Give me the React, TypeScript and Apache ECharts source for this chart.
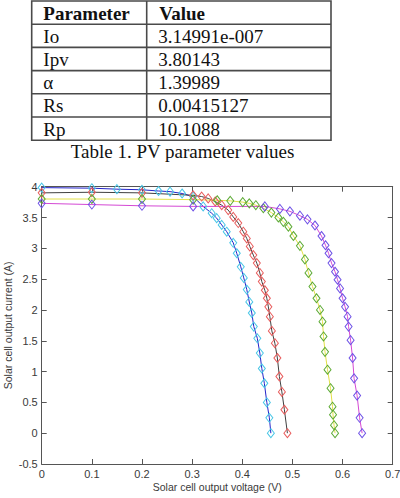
import React, { useEffect, useRef } from "react";
import * as echarts from "echarts";

// Table content
const tableHeader = ["Parameter", "Value"];
const paramNames = ["Io", "Ipv", "α", "Rs", "Rp"];
const paramValues = ["3.14991e-007", "3.80143", "1.39989", "0.00415127", "10.1088"];
const caption = "Table 1. PV parameter values";

// Chart axes
const xTicks = [0, 0.1, 0.2, 0.3, 0.4, 0.5, 0.6, 0.7];
const yTicks = [-0.5, 0, 0.5, 1, 1.5, 2, 2.5, 3, 3.5, 4];
const xName = "Solar cell output voltage (V)";
const yName = "Solar cell output current (A)";

// Curve A (cyan markers, blue line)
const curveAx = [0, 0.1, 0.15, 0.2, 0.233, 0.256, 0.28, 0.302, 0.322, 0.339, 0.349, 0.359, 0.369, 0.382, 0.389, 0.397, 0.403, 0.409, 0.414, 0.419, 0.423, 0.43, 0.435, 0.439, 0.444, 0.449, 0.454, 0.457];
const curveAy = [3.985, 3.976, 3.96, 3.95, 3.93, 3.92, 3.89, 3.84, 3.68, 3.57, 3.49, 3.38, 3.27, 3.09, 2.92, 2.7, 2.52, 2.33, 2.13, 1.95, 1.73, 1.54, 1.3, 1.05, 0.81, 0.5, 0.25, 0];
// Curve B (red markers, dark line)
const curveBx = [0, 0.1, 0.2, 0.302, 0.319, 0.332, 0.346, 0.359, 0.372, 0.382, 0.392, 0.402, 0.409, 0.415, 0.422, 0.429, 0.435, 0.439, 0.445, 0.449, 0.452, 0.455, 0.459, 0.465, 0.47, 0.474, 0.479, 0.484, 0.49];
const curveBy = [3.9, 3.91, 3.9, 3.86, 3.84, 3.81, 3.76, 3.7, 3.62, 3.51, 3.41, 3.27, 3.16, 3.03, 2.89, 2.76, 2.6, 2.46, 2.32, 2.19, 2.05, 1.89, 1.66, 1.46, 1.22, 0.92, 0.67, 0.38, 0];
// Curve C (green markers, yellow line)
const curveCx = [0, 0.1, 0.2, 0.302, 0.35, 0.376, 0.401, 0.414, 0.427, 0.442, 0.458, 0.472, 0.482, 0.492, 0.502, 0.515, 0.525, 0.532, 0.54, 0.548, 0.555, 0.56, 0.562, 0.565, 0.57, 0.576, 0.58, 0.581, 0.583, 0.585];
const curveCy = [3.8, 3.8, 3.8, 3.79, 3.78, 3.77, 3.75, 3.73, 3.7, 3.65, 3.58, 3.5, 3.43, 3.35, 3.2, 3.04, 2.82, 2.6, 2.38, 2.19, 2.0, 1.81, 1.57, 1.32, 1.03, 0.73, 0.43, 0.3, 0.13, 0];
// Curve D (purple markers, magenta line)
const curveDx = [0, 0.1, 0.2, 0.302, 0.445, 0.475, 0.495, 0.515, 0.53, 0.545, 0.558, 0.566, 0.572, 0.578, 0.585, 0.59, 0.595, 0.6, 0.605, 0.61, 0.612, 0.616, 0.62, 0.623, 0.629, 0.634, 0.639];
const curveDy = [3.73, 3.71, 3.69, 3.68, 3.68, 3.64, 3.6, 3.53, 3.47, 3.37, 3.2, 3.05, 2.92, 2.76, 2.62, 2.49, 2.35, 2.19, 2.05, 1.89, 1.73, 1.51, 1.22, 0.89, 0.61, 0.25, 0];

const zip = (xs: number[], ys: number[]) => xs.map((x, i) => [x, ys[i]]);

const curves = [
  { name: "A", data: zip(curveAx, curveAy), line: "#2323c8", marker: "#48c6e6" },
  { name: "B", data: zip(curveBx, curveBy), line: "#404040", marker: "#e85c5c" },
  { name: "C", data: zip(curveCx, curveCy), line: "#e2e048", marker: "#5caa34" },
  { name: "D", data: zip(curveDx, curveDy), line: "#d448d4", marker: "#6e52e6" },
];

export default function App() {
  const ref = useRef<HTMLDivElement>(null);
  useEffect(() => {
    if (!ref.current) return;
    const chart = echarts.init(ref.current, undefined, { renderer: "svg" });

    const tl = 31.7, tr = 331, tt = 1, rowH = 23.2, colX = 146.7;
    const rows = paramNames.length + 1;
    const borderColor = "#4a4a4a";
    const graphics: any[] = [];
    graphics.push({
      type: "rect",
      shape: { x: tl, y: tt, width: tr - tl, height: rowH * rows },
      style: { fill: "none", stroke: borderColor, lineWidth: 1.6 },
    });
    for (let i = 1; i < rows; i++) {
      graphics.push({
        type: "line",
        shape: { x1: tl, y1: tt + rowH * i, x2: tr, y2: tt + rowH * i },
        style: { stroke: borderColor, lineWidth: 1.6 },
      });
    }
    graphics.push({
      type: "line",
      shape: { x1: colX, y1: tt, x2: colX, y2: tt + rowH * rows },
      style: { stroke: borderColor, lineWidth: 1.6 },
    });
    const serif = "'Liberation Serif', 'Times New Roman', serif";
    const cells: string[][] = [tableHeader, ...paramNames.map((p, i) => [p, paramValues[i]])];
    cells.forEach((row, i) => {
      const cy = tt + rowH * i + rowH / 2 + 0.5;
      graphics.push({
        type: "text",
        x: 43.3,
        y: cy,
        style: {
          text: row[0],
          font: `${i === 0 ? "bold " : ""}19px ${serif}`,
          fill: "#111",
          align: "left",
          verticalAlign: "middle",
        },
      });
      graphics.push({
        type: "text",
        x: i === 0 ? 159.3 : 158.3,
        y: cy,
        style: {
          text: row[1],
          font: `${i === 0 ? "bold " : ""}19px ${serif}`,
          fill: "#111",
          align: "left",
          verticalAlign: "middle",
        },
      });
    });
    graphics.push({
      type: "text",
      x: 182.5,
      y: 151,
      style: {
        text: caption,
        font: `19px ${serif}`,
        fill: "#111",
        align: "center",
        verticalAlign: "middle",
      },
    });

    const sans = "'Liberation Sans', Arial, sans-serif";
    const axisColor = "#555";
    const labelColor = "#3a3a3a";
    const fmt = (v: number) => String(+(+v).toFixed(1));

    const series: any[] = curves.map((c) => ({
      type: "line",
      name: c.name,
      data: c.data,
      xAxisIndex: 0,
      yAxisIndex: 0,
      symbol: "diamond",
      symbolSize: [7, 9],
      showAllSymbol: true,
      lineStyle: { color: c.line, width: 1 },
      itemStyle: { color: "rgba(255,255,255,0)", borderColor: c.marker, borderWidth: 1 },
      emphasis: { disabled: true },
    }));

    chart.setOption({
      animation: false,
      textStyle: { fontFamily: sans },
      graphic: graphics,
      grid: {
        left: 41.7,
        right: 7.3,
        top: 186.7,
        bottom: 34,
        containLabel: false,
        outerBoundsMode: "none",
      },
      xAxis: [
        {
          type: "value",
          min: 0,
          max: 0.7,
          interval: 0.1,
          position: "bottom",
          name: xName,
          nameLocation: "middle",
          nameGap: 17,
          nameMoveOverlap: false,
          nameTextStyle: { fontSize: 10.5, color: labelColor, fontFamily: sans },
          axisLine: { show: true, onZero: false, lineStyle: { color: axisColor, width: 1 } },
          axisTick: { show: true, inside: true, length: 5, lineStyle: { color: axisColor } },
          axisLabel: { fontSize: 11, color: labelColor, margin: 4, formatter: fmt, fontFamily: sans },
          splitLine: { show: false },
        },
        {
          type: "value",
          min: 0,
          max: 0.7,
          interval: 0.1,
          position: "top",
          axisLine: { show: true, onZero: false, lineStyle: { color: axisColor, width: 1 } },
          axisTick: { show: true, inside: true, length: 5, lineStyle: { color: axisColor } },
          axisLabel: { show: false },
          splitLine: { show: false },
        },
      ],
      yAxis: [
        {
          type: "value",
          min: -0.5,
          max: 4,
          interval: 0.5,
          position: "left",
          name: yName,
          nameLocation: "middle",
          nameGap: 28,
          nameMoveOverlap: false,
          nameTextStyle: { fontSize: 10.5, color: labelColor, fontFamily: sans },
          axisLine: { show: true, onZero: false, lineStyle: { color: axisColor, width: 1 } },
          axisTick: { show: true, inside: true, length: 5, lineStyle: { color: axisColor } },
          axisLabel: { fontSize: 11, color: labelColor, margin: 4, formatter: fmt, fontFamily: sans },
          splitLine: { show: false },
        },
        {
          type: "value",
          min: -0.5,
          max: 4,
          interval: 0.5,
          position: "right",
          axisLine: { show: true, onZero: false, lineStyle: { color: axisColor, width: 1 } },
          axisTick: { show: true, inside: true, length: 5, lineStyle: { color: axisColor } },
          axisLabel: { show: false },
          splitLine: { show: false },
        },
      ],
      series,
    });
    return () => chart.dispose();
  }, []);

  return (
    <div
      ref={ref}
      style={{ position: "absolute", left: 0, top: 0, width: 400, height: 498, background: "#fff" }}
    />
  );
}
